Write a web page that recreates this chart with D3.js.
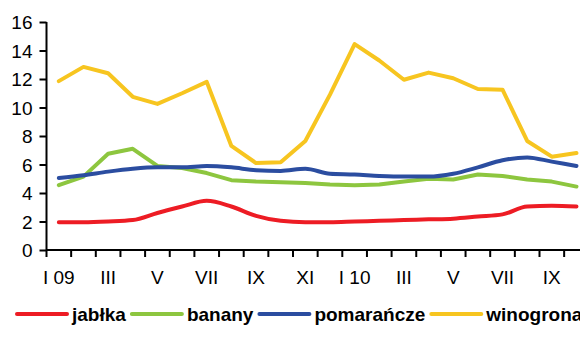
<!DOCTYPE html>
<html>
<head>
<meta charset="utf-8">
<script src="https://cdn.jsdelivr.net/npm/d3@7"></script>
<style>
  html, body { margin: 0; padding: 0; background: #fff; overflow: hidden; }
  svg { display: block; font-family: Arial, "Liberation Sans", sans-serif; }
</style>
</head>
<body>
<svg id="chart" width="580" height="343"></svg>
<script>
// Months from January 2009 to October 2010
const months = ["I 09","II","III","IV","V","VI","VII","VIII","IX","X","XI","XII",
                "I 10","II","III","IV","V","VI","VII","VIII","IX","X"];
const yTicks = [0, 2, 4, 6, 8, 10, 12, 14, 16];

const jablka     = [1.95, 1.95, 2.0, 2.1, 2.6, 3.05, 3.45, 3.05, 2.4, 2.05, 1.95, 1.95,
                    2.0, 2.05, 2.1, 2.15, 2.2, 2.35, 2.5, 3.05, 3.1, 3.05];
const banany     = [4.55, 5.15, 6.75, 7.1, 5.9, 5.75, 5.4, 4.9, 4.8, 4.75, 4.7, 4.6,
                    4.55, 4.6, 4.8, 5.0, 4.95, 5.3, 5.2, 4.95, 4.8, 4.45];
const pomarancze = [5.05, 5.25, 5.5, 5.7, 5.8, 5.8, 5.9, 5.8, 5.6, 5.55, 5.7, 5.35,
                    5.3, 5.2, 5.15, 5.15, 5.35, 5.8, 6.3, 6.5, 6.2, 5.9];
const winogrona  = [11.85, 12.85, 12.4, 10.75, 10.25, 11.0, 11.8, 7.3, 6.1, 6.15, 7.65, 10.9,
                    14.45, 13.3, 11.95, 12.45, 12.05, 11.3, 11.25, 7.65, 6.55, 6.8];

const seriesNames  = ["jabłka", "banany", "pomarańcze", "winogrona"];
const seriesValues = [jablka, banany, pomarancze, winogrona];
const seriesColors = ["#ed1c24", "#8dc63f", "#2b4da0", "#f7c520"];
const smoothed     = [true, false, true, false];

const svg = d3.select("#chart");
const plotLeft = 46.5, plotTop = 22, plotBottom = 250, step = 24.65;

const x = d3.scaleBand().domain(d3.range(months.length))
  .range([plotLeft, plotLeft + step * months.length]).paddingInner(0).paddingOuter(0);
const y = d3.scaleLinear().domain([0, 16]).range([plotBottom, plotTop]);

// Y axis
const yAxis = svg.append("g").attr("transform", `translate(${plotLeft},0)`)
  .call(d3.axisLeft(y).tickValues(yTicks).tickSize(7).tickPadding(7).tickFormat(d3.format("d")));
yAxis.select(".domain").attr("d", `M0,${plotTop}V${plotBottom}`).attr("stroke", "#000").attr("stroke-width", 2);
yAxis.selectAll(".tick line").attr("stroke", "#000").attr("stroke-width", 2);
yAxis.selectAll(".tick text").attr("font-size", 19).attr("fill", "#000").attr("dy", "0.36em");

// X axis: ticks at month boundaries, labels every second month
const xg = svg.append("g");
xg.append("line")
  .attr("x1", plotLeft).attr("x2", x.range()[1])
  .attr("y1", plotBottom).attr("y2", plotBottom)
  .attr("stroke", "#000").attr("stroke-width", 2);
const bounds = d3.range(months.length + 1).map(i => i < months.length ? x(i) : x.range()[1]);
xg.selectAll("line.tk").data(bounds).join("line").attr("class", "tk")
  .attr("x1", d => d).attr("x2", d => d)
  .attr("y1", plotBottom).attr("y2", plotBottom + 7)
  .attr("stroke", "#000").attr("stroke-width", 2);
xg.selectAll("text").data(months.map((m, i) => ({m, i})).filter(d => d.i % 2 === 0)).join("text")
  .attr("x", d => x(d.i) + x.bandwidth() / 2)
  .attr("y", 284)
  .attr("text-anchor", "middle")
  .attr("font-size", 19)
  .attr("fill", "#000")
  .text(d => d.m);

// Series lines
seriesValues.forEach((vals, s) => {
  const line = d3.line()
    .x((d, i) => x(i) + x.bandwidth() / 2)
    .y(d => y(d))
    .curve(smoothed[s] ? d3.curveMonotoneX : d3.curveLinear);
  svg.append("path").datum(vals)
    .attr("d", line)
    .attr("fill", "none")
    .attr("stroke", seriesColors[s])
    .attr("stroke-width", 4)
    .attr("stroke-linejoin", "round")
    .attr("stroke-linecap", "round");
});

// Legend
const lg = svg.append("g");
let cx = 17;
seriesNames.forEach((name, s) => {
  lg.append("line")
    .attr("x1", cx).attr("x2", cx + 50)
    .attr("y1", 314).attr("y2", 314)
    .attr("stroke", seriesColors[s]).attr("stroke-width", 4).attr("stroke-linecap", "round");
  const t = lg.append("text")
    .attr("x", cx + 55).attr("y", 321)
    .attr("font-size", 19).attr("font-weight", "bold").attr("fill", "#000")
    .text(name);
  cx += 55 + t.node().getComputedTextLength() + 6;
});
</script>
</body>
</html>
